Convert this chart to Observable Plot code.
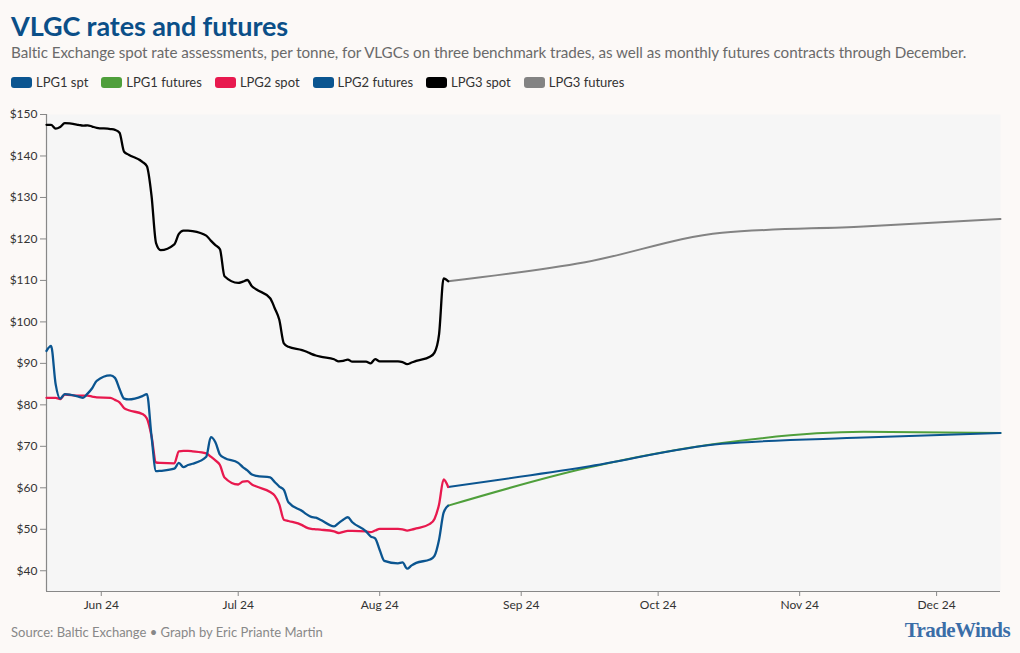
<!DOCTYPE html>
<html>
<head>
<meta charset="utf-8">
<script src="https://cdn.jsdelivr.net/npm/d3@7"></script>
<script src="https://cdn.jsdelivr.net/npm/@observablehq/plot@0.6"></script>
<style>
  html, body { margin: 0; padding: 0; background: #fcf9f7; }
  body { width: 1020px; height: 653px; position: relative; overflow: hidden; font-family: Lato, "Open Sans", sans-serif; }
  #title { position: absolute; left: 11px; top: 9px; font-size: 27px; font-weight: 700; color: #0b4f88; letter-spacing: -0.1px; }
  #subtitle { position: absolute; left: 11px; top: 43px; font-size: 15.2px; color: #6a6a6a; white-space: nowrap; letter-spacing: -0.05px; }
  #legend { position: absolute; left: 11px; top: 74px; display: flex; gap: 13px; font-size: 13px; color: #333; }
  .item { display: flex; align-items: center; gap: 4px; }
  .sw { width: 21px; height: 11px; border-radius: 3px; display: inline-block; }
  #chart { position: absolute; left: 0; top: 100px; }
  #source { position: absolute; left: 11px; top: 624px; font-size: 13px; color: #888; }
  #logo { position: absolute; right: 10px; top: 618px; font-family: "Liberation Serif", "DejaVu Serif", serif; font-weight: 700; font-size: 21px; color: #3b6ea8; letter-spacing: -0.6px; }
</style>
</head>
<body>
<div id="title">VLGC rates and futures</div>
<div id="subtitle">Baltic Exchange spot rate assessments, per tonne, for VLGCs on three benchmark trades, as well as monthly futures contracts through December.</div>
<div id="legend"></div>
<div id="chart"></div>
<div id="source">Source: Baltic Exchange • Graph by Eric Priante Martin</div>
<div id="logo">TradeWinds</div>
<script>
// ---- Data ----
const spotDates = [
  "2024-05-20","2024-05-21","2024-05-22","2024-05-23","2024-05-24",
  "2024-05-27","2024-05-28","2024-05-29","2024-05-30","2024-05-31",
  "2024-06-03","2024-06-04","2024-06-05","2024-06-06","2024-06-07",
  "2024-06-10","2024-06-11","2024-06-12","2024-06-13","2024-06-14",
  "2024-06-17","2024-06-18","2024-06-19","2024-06-20","2024-06-21",
  "2024-06-24","2024-06-25","2024-06-26","2024-06-27","2024-06-28",
  "2024-07-01","2024-07-02","2024-07-03","2024-07-04","2024-07-05",
  "2024-07-08","2024-07-09","2024-07-10","2024-07-11","2024-07-12",
  "2024-07-15","2024-07-16","2024-07-17","2024-07-18","2024-07-19",
  "2024-07-22","2024-07-23","2024-07-24","2024-07-25","2024-07-26",
  "2024-07-29","2024-07-30","2024-07-31","2024-08-01","2024-08-02",
  "2024-08-05","2024-08-06","2024-08-07","2024-08-08","2024-08-09",
  "2024-08-12","2024-08-13","2024-08-14","2024-08-15","2024-08-16"
];
const lpg1Spot = [
  93.0, 94.2, 85.0, 81.5, 82.6,
  82.0, 81.7, 82.7, 84.0, 85.8,
  87.1, 86.5, 83.8, 81.5, 81.3,
  82.1, 82.6, 72.5, 64.0, 64.1,
  64.6, 66.0, 65.0, 65.5, 65.8,
  67.5, 72.2, 71.0, 68.0, 67.2,
  66.0, 65.0, 64.2, 63.2, 62.9,
  62.5, 61.4, 60.3, 59.5, 56.5,
  54.4, 53.6, 53.0, 52.8, 52.3,
  50.7, 51.5, 52.3, 52.9, 51.7,
  49.5, 48.3, 47.8, 45.0, 42.4,
  41.8, 42.0, 40.5, 41.3, 41.9,
  42.7, 43.6, 47.5, 54.0, 55.7
];
const lpg2Spot = [
  81.7, 81.7, 81.7, 81.4, 82.5,
  82.2, 82.2, 82.2, 82.0, 81.8,
  81.7, 81.2, 80.6, 79.2, 78.7,
  77.8, 76.7, 72.5, 66.1, 66.0,
  65.9, 68.8, 68.9, 68.9, 68.8,
  68.3, 67.5, 66.6, 65.5, 62.5,
  60.8, 61.5, 61.6, 60.8, 60.3,
  59.0, 58.1, 56.0, 52.3, 52.0,
  51.0, 50.4, 50.1, 50.0, 49.9,
  49.5, 49.1, 49.4, 49.6, 49.6,
  49.5, 49.3, 49.7, 50.1, 50.1,
  50.1, 50.0, 49.7, 49.9, 50.2,
  51.3, 52.5, 56.0, 62.0, 60.2
];
const lpg3Spot = [
  147.5, 147.5, 146.6, 147.0, 147.9,
  147.5, 147.3, 147.4, 147.1, 146.8,
  146.5, 146.3, 145.6, 141.0, 140.3,
  138.6, 137.5, 130.5, 119.0, 117.3,
  118.7, 121.2, 122.0, 122.0, 121.9,
  120.8, 119.6, 118.5, 117.5, 111.0,
  109.4, 109.7, 110.1, 108.6, 107.8,
  105.7, 103.3, 100.5, 94.8, 94.0,
  93.2, 92.8, 92.3, 91.9, 91.6,
  91.0, 90.5, 90.6, 90.9, 90.4,
  90.4, 90.0, 91.0, 90.5, 90.5,
  90.5, 90.3, 89.8, 90.2, 90.6,
  91.6, 92.6, 97.0, 110.5, 109.8
];
const futuresDates = ["2024-08-16","2024-09-15","2024-10-15","2024-11-15","2024-12-15"];
const lpg1Futures = [55.7, 64.7, 70.8, 73.5, 73.2];
const lpg2Futures = [60.2, 65.0, 70.6, 72.1, 73.2];
const lpg3Futures = [109.8, 114.4, 121.5, 123.0, 124.8];

const seriesNames = ["LPG1 spt","LPG1 futures","LPG2 spot","LPG2 futures","LPG3 spot","LPG3 futures"];
const seriesColors = ["#0b5590","#4f9f3b","#e8194e","#0b5590","#000000","#838383"];
const yTicks = [40,50,60,70,80,90,100,110,120,130,140,150];
const xTicks = ["2024-06-01","2024-07-01","2024-08-01","2024-09-01","2024-10-01","2024-11-01","2024-12-01"];

// ---- Build rows ----
const parse = d3.utcParse("%Y-%m-%d");
function rows(dates, values, name) {
  return dates.map((d, i) => ({date: parse(d), value: values[i], series: name}));
}
const data = {
  "LPG1 spt": rows(spotDates, lpg1Spot, "LPG1 spt"),
  "LPG1 futures": rows(futuresDates, lpg1Futures, "LPG1 futures"),
  "LPG2 spot": rows(spotDates, lpg2Spot, "LPG2 spot"),
  "LPG2 futures": rows(futuresDates, lpg2Futures, "LPG2 futures"),
  "LPG3 spot": rows(spotDates, lpg3Spot, "LPG3 spot"),
  "LPG3 futures": rows(futuresDates, lpg3Futures, "LPG3 futures")
};
const colorOf = Object.fromEntries(seriesNames.map((n, i) => [n, seriesColors[i]]));

// ---- Legend ----
const legend = document.getElementById("legend");
seriesNames.forEach((n, i) => {
  const it = document.createElement("div");
  it.className = "item";
  it.innerHTML = `<span class="sw" style="background:${seriesColors[i]}"></span><span>${n}</span>`;
  legend.appendChild(it);
});

// ---- Chart ----
const xDomain = [parse("2024-05-20"), parse("2024-12-15")];
const lineOpts = (name, w) => Plot.line(data[name], {x: "date", y: "value", stroke: colorOf[name], strokeWidth: w, curve: "monotone-x"});

const chart = Plot.plot({
  width: 1020,
  height: 521,
  marginTop: 14,
  marginLeft: 46,
  marginRight: 20,
  marginBottom: 30,
  style: {background: "transparent", fontFamily: "Lato, sans-serif", fontSize: "12px", color: "#333"},
  x: {type: "utc", domain: xDomain, label: null},
  y: {domain: [35, 150], label: null},
  marks: [
    Plot.frame({fill: "#f6f6f6", stroke: null}),
    Plot.axisY({ticks: yTicks, tickFormat: d => "$" + d, tickSize: 6, tickPadding: 3, stroke: "#888", fill: "#333", fontSize: 12, label: null}),
    Plot.axisX({ticks: xTicks.map(parse), tickFormat: d3.utcFormat("%b %y"), tickSize: 5, tickPadding: 4, stroke: "#888", fill: "#333", fontSize: 12, label: null}),
    Plot.ruleX([xDomain[0]], {stroke: "#888", strokeWidth: 1.2}),
    Plot.ruleY([35], {stroke: "#888", strokeWidth: 1.2}),
    lineOpts("LPG3 futures", 2),
    lineOpts("LPG1 futures", 2),
    lineOpts("LPG2 futures", 2),
    lineOpts("LPG2 spot", 2.3),
    lineOpts("LPG1 spt", 2.3),
    lineOpts("LPG3 spot", 2.3)
  ]
});
document.getElementById("chart").appendChild(chart);
</script>
</body>
</html>
